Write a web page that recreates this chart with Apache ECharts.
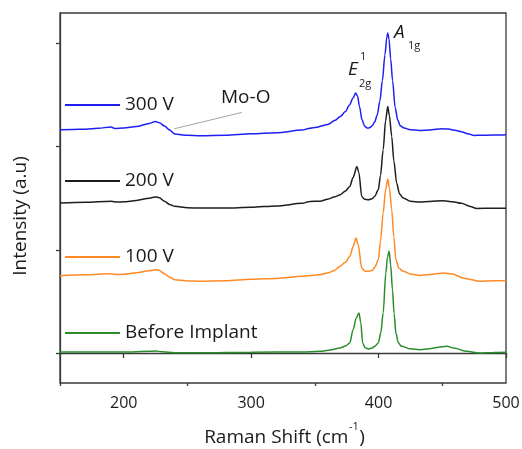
<!DOCTYPE html>
<html>
<head>
<meta charset="utf-8">
<script src="https://cdn.jsdelivr.net/npm/echarts@6/dist/echarts.min.js"></script>
<style>
  html, body { margin: 0; padding: 0; background: #fff; }
  #chart { width: 522px; height: 449px; }
</style>
</head>
<body>
<div id="chart"></div>
<script>
// Raman spectra, intensities in offset arbitrary units (one y tick = 1)
const shift300 = [150, 160, 170, 180, 190, 193, 200, 210, 220, 225, 228, 232, 236, 240, 250, 260, 280, 300, 320, 340, 345, 350, 360, 366, 370, 374, 377, 380, 382, 383.5, 385, 387, 389, 391, 393, 395, 397, 399, 401, 403, 405, 406.5, 407.2, 408.2, 409.5, 411, 413, 415, 417, 420, 425, 432, 440, 450, 455, 460, 465, 470, 475, 480, 490, 500]
const int300 = [2.164, 2.166, 2.169, 2.178, 2.190, 2.176, 2.180, 2.195, 2.225, 2.244, 2.232, 2.200, 2.160, 2.122, 2.110, 2.106, 2.110, 2.125, 2.135, 2.160, 2.175, 2.185, 2.215, 2.255, 2.293, 2.340, 2.400, 2.470, 2.519, 2.490, 2.390, 2.261, 2.200, 2.180, 2.182, 2.203, 2.240, 2.310, 2.440, 2.640, 2.890, 3.060, 3.101, 3.040, 2.850, 2.640, 2.380, 2.260, 2.203, 2.180, 2.164, 2.157, 2.162, 2.173, 2.170, 2.158, 2.144, 2.125, 2.108, 2.110, 2.112, 2.115]

const shift200 = [150, 170, 190, 195, 200, 210, 220, 225, 228, 232, 236, 240, 250, 260, 280, 300, 320, 340, 346, 354, 360, 366, 370, 374, 377.4, 380, 383, 384.5, 386.8, 389, 392, 395, 397, 399.8, 401.5, 403.6, 405.5, 407.2, 408.5, 410.3, 412, 414.2, 416.5, 419.4, 425, 432.5, 440, 450.8, 458, 465, 472, 477, 490, 500]
const int200 = [1.453, 1.460, 1.470, 1.463, 1.465, 1.478, 1.500, 1.512, 1.505, 1.470, 1.440, 1.421, 1.407, 1.405, 1.405, 1.412, 1.425, 1.450, 1.469, 1.470, 1.490, 1.515, 1.534, 1.570, 1.614, 1.700, 1.808, 1.750, 1.517, 1.490, 1.485, 1.495, 1.520, 1.582, 1.720, 1.970, 2.250, 2.390, 2.300, 2.099, 1.860, 1.647, 1.540, 1.502, 1.470, 1.463, 1.468, 1.476, 1.466, 1.450, 1.420, 1.400, 1.403, 1.403]

const shift100 = [150, 170, 190, 195, 200, 210, 220, 225, 228, 232, 236, 240, 250, 260, 280, 300, 320, 340, 354, 360, 365, 369.6, 374, 377.4, 380, 382.3, 384, 386.8, 389, 392, 395, 397, 399.8, 401.5, 403.6, 405.5, 407.2, 408.5, 410.3, 412, 413.6, 416, 419.4, 425, 432.5, 440, 450.8, 458, 466.5, 472, 479.6, 490, 500]
const int100 = [0.749, 0.759, 0.768, 0.760, 0.762, 0.778, 0.797, 0.807, 0.800, 0.768, 0.735, 0.710, 0.698, 0.696, 0.700, 0.715, 0.722, 0.744, 0.759, 0.775, 0.797, 0.839, 0.880, 0.936, 1.030, 1.114, 1.050, 0.824, 0.795, 0.791, 0.800, 0.830, 0.904, 1.080, 1.357, 1.580, 1.686, 1.600, 1.389, 1.120, 0.904, 0.820, 0.791, 0.765, 0.752, 0.760, 0.775, 0.765, 0.727, 0.712, 0.694, 0.700, 0.703]

const shiftBefore = [150, 200, 220, 225, 230, 240, 260, 300, 340, 354, 362, 369.6, 374, 377.4, 380, 382.5, 384.6, 386, 387.5, 389.5, 392, 395, 397, 399.8, 401.8, 403.6, 405.7, 407, 408.3, 409.5, 410.9, 412.2, 413.6, 415.5, 418, 425, 432.5, 440, 447, 453.4, 460, 469, 479.6, 490, 500]
const intBefore = [0.010, 0.010, 0.016, 0.019, 0.012, 0.003, 0.002, 0.008, 0.010, 0.016, 0.028, 0.048, 0.068, 0.097, 0.226, 0.340, 0.388, 0.300, 0.097, 0.050, 0.039, 0.048, 0.065, 0.097, 0.200, 0.388, 0.775, 0.930, 0.985, 0.850, 0.613, 0.380, 0.194, 0.100, 0.064, 0.040, 0.032, 0.040, 0.055, 0.064, 0.045, 0.016, 0.000, 0.005, 0.006]

const seriesNames = ['300 V', '200 V', '100 V', 'Before Implant']
const seriesColors = ['#1f1ff5', '#1e1e1e', '#ff8a24', '#2b8c2b']
const xLabelTicks = [200, 300, 400, 500]
const xMinorTicks = [150, 250, 350, 450]
const yTicks = [0, 1, 2, 3]
const moLeaderLine = [[239.7, 2.173], [292.6, 2.331]]

const FONT = 'Open Sans'
const TEXT = '#1a1a1a'
const AXIS = '#3a3a3a'

const pairs = (xs, ys) => xs.map((x, i) => [x, ys[i]])
const spectra = [pairs(shift300, int300), pairs(shift200, int200), pairs(shift100, int100), pairs(shiftBefore, intBefore)]

// measure text so the x-axis title can be laid out with a raised superscript
const ctx = document.createElement('canvas').getContext('2d')
const textWidth = (s, size) => { ctx.font = size + 'px "' + FONT + '"'; return ctx.measureText(s).width }
const titleMain = 'Raman Shift (cm', titleSup = '-1', titleEnd = ')'
const wMain = textWidth(titleMain, 19), wSup = textWidth(titleSup, 11), wEnd = textWidth(titleEnd, 19)
const titleLeft = 284 - (wMain + wSup + wEnd) / 2

const chart = echarts.init(document.getElementById('chart'))

chart.setOption({
  animation: false,
  backgroundColor: '#fff',
  textStyle: { fontFamily: FONT },
  grid: { left: 60, right: 16, top: 13, bottom: 66, show: true, borderColor: AXIS, borderWidth: 1.3, outerBoundsMode: 'none' },
  legend: {
    data: seriesNames,
    orient: 'vertical',
    left: 65,
    top: 94,
    padding: 0,
    icon: 'rect',
    itemWidth: 55,
    itemHeight: 2,
    itemGap: 54,
    textStyle: { fontFamily: FONT, fontSize: 19, lineHeight: 22, color: TEXT },
    selectedMode: false
  },
  xAxis: [
    {
      type: 'value', min: 150, max: 500, interval: 50,
      axisLine: { lineStyle: { color: AXIS, width: 1.3 } },
      axisTick: { show: true, length: 5, customValues: xLabelTicks, lineStyle: { color: AXIS, width: 1.3 } },
      axisLabel: { customValues: xLabelTicks, fontFamily: FONT, fontSize: 16, color: TEXT, margin: 12 },
      splitLine: { show: false }
    },
    {
      type: 'value', min: 150, max: 500, interval: 50, position: 'bottom',
      axisLine: { show: false },
      axisTick: { show: true, length: 3, customValues: xMinorTicks, lineStyle: { color: AXIS, width: 1.3 } },
      axisLabel: { show: false },
      splitLine: { show: false }
    }
  ],
  yAxis: {
    type: 'value', min: -0.291, max: 3.295,
    axisLine: { show: true, lineStyle: { color: AXIS, width: 1.3 } },
    axisTick: { show: true, length: 4, customValues: yTicks, lineStyle: { color: AXIS, width: 1.3 } },
    axisLabel: { show: false },
    splitLine: { show: false }
  },
  series: seriesNames.map((name, i) => ({
    name,
    type: 'line',
    xAxisIndex: 0,
    data: spectra[i],
    showSymbol: false,
    smooth: 0.3,
    smoothMonotone: 'x',
    lineStyle: { color: seriesColors[i], width: 1.5 },
    itemStyle: { color: seriesColors[i] },
    markLine: i === 0 ? {
      silent: true,
      symbol: ['none', 'none'],
      label: { show: false },
      lineStyle: { color: '#a5a5a5', width: 1, type: 'solid' },
      data: [[{ coord: moLeaderLine[0] }, { coord: moLeaderLine[1] }]]
    } : undefined
  })),
  graphic: [
    {
      type: 'text', x: 21, y: 216, rotation: Math.PI / 2,
      style: { text: 'Intensity (a.u)', fontFamily: FONT, fontSize: 19, fill: TEXT, align: 'center', verticalAlign: 'middle' }
    },
    { type: 'text', x: titleLeft, y: 438, style: { text: titleMain, fontFamily: FONT, fontSize: 19, fill: TEXT, verticalAlign: 'middle' } },
    { type: 'text', x: titleLeft + wMain + 0.5, y: 427, style: { text: titleSup, fontFamily: FONT, fontSize: 11, fill: TEXT, verticalAlign: 'middle' } },
    { type: 'text', x: titleLeft + wMain + wSup + 1, y: 438, style: { text: titleEnd, fontFamily: FONT, fontSize: 19, fill: TEXT, verticalAlign: 'middle' } },
    { type: 'text', x: 221, y: 98, style: { text: 'Mo-O', fontFamily: FONT, fontSize: 19, fill: TEXT, verticalAlign: 'middle' } },
    { type: 'text', x: 348, y: 70, style: { text: 'E', fontFamily: FONT, fontStyle: 'italic', fontSize: 19, fill: TEXT, verticalAlign: 'middle' } },
    { type: 'text', x: 360, y: 57, style: { text: '1', fontFamily: FONT, fontSize: 11, fill: TEXT, verticalAlign: 'middle' } },
    { type: 'text', x: 359, y: 84, style: { text: '2g', fontFamily: FONT, fontSize: 11, fill: TEXT, verticalAlign: 'middle' } },
    { type: 'text', x: 394, y: 33, style: { text: 'A', fontFamily: FONT, fontStyle: 'italic', fontSize: 19, fill: TEXT, verticalAlign: 'middle' } },
    { type: 'text', x: 408, y: 46, style: { text: '1g', fontFamily: FONT, fontSize: 11, fill: TEXT, verticalAlign: 'middle' } }
  ]
})
</script>
</body>
</html>
